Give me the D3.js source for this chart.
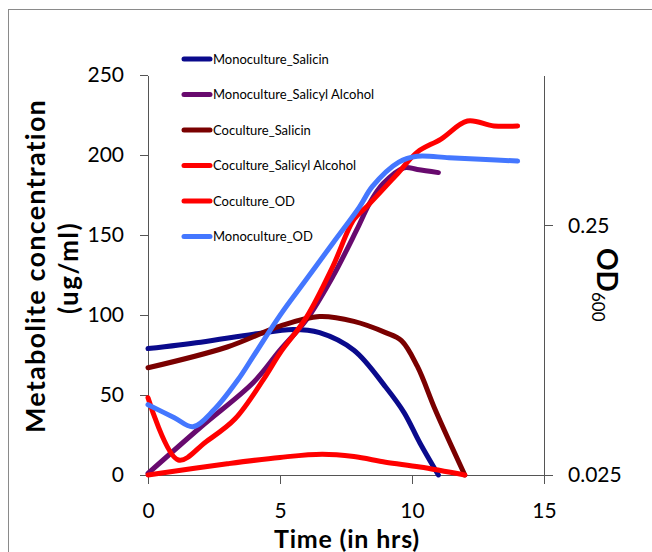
<!DOCTYPE html>
<html lang="en">
<head>
<meta charset="UTF-8">
<title>Metabolite concentration and OD600 over time</title>
<style>
  html, body { margin: 0; background: #fff; }
  text { font-family: Lato, "Open Sans", sans-serif; fill: #000; }
  .series { fill: none; stroke-width: 5px; stroke-linecap: round; stroke-linejoin: round; }
  .axis path, .axis line { stroke: #555; stroke-width: 1px; shape-rendering: crispEdges; }
  .axis text { font-size: 21px; }
</style>
</head>
<body>
<svg width="652" height="552"></svg>
<script src="https://d3js.org/d3.v7.min.js"></script>
<script>
// data, [hour, value]
const monoSalicin = [[0, 79], [2, 83], [4, 88], [5.5, 91], [6.5, 89], [7.8, 78], [9, 55], [9.7, 39], [10.3, 20], [11, 0]];
const monoSalicylAlcohol = [[0, 1], [2, 30], [4, 58], [5, 78], [6, 97], [7, 124], [7.9, 153], [8.4, 170], [8.9, 182], [9.7, 192], [10.2, 191], [11, 189]];
const cocSalicin = [[0, 67], [3, 80], [5, 93], [6.5, 99], [7.8, 96], [9, 89], [9.6, 84], [10.2, 68], [10.9, 40], [12, 0]];
const cocSalicylAlcohol = [[0, 0], [3, 7], [5, 11], [6.6, 13], [7.8, 11.5], [9, 8], [10.3, 5], [12, 0]];
// OD600, secondary (log) axis
const cocOD = [[0, 0.051], [1.15, 0.0287], [2.2, 0.034], [3.3, 0.042], [4.4, 0.061], [5, 0.077], [6, 0.107], [7, 0.171], [7.8, 0.264], [8.3, 0.298], [9.5, 0.408], [10.2, 0.491], [11.1, 0.554], [12.1, 0.654], [13.1, 0.625], [14, 0.625]];
const monoOD = [[0, 0.0478], [1, 0.0424], [1.7, 0.039], [2.5, 0.0456], [3.4, 0.060], [4, 0.075], [5, 0.109], [6, 0.152], [7, 0.212], [8, 0.295], [8.5, 0.358], [9.5, 0.448], [10.2, 0.473], [11.4, 0.466], [12.6, 0.46], [14, 0.452]];

const seriesNames = ["Monoculture_Salicin", "Monoculture_Salicyl Alcohol", "Coculture_Salicin",
  "Coculture_Salicyl Alcohol", "Coculture_OD", "Monoculture_OD"];
const seriesColors = ["#0a0a8c", "#680a6e", "#7a0000", "#ff0000", "#ff0000", "#4477ff"];

const xTicks = [0, 5, 10, 15];
const yTicks = [0, 50, 100, 150, 200, 250];
const odTicks = [0.025, 0.25];

const svg = d3.select("svg");

// outer frame
svg.append("rect")
    .attr("x", 8.5).attr("y", 9.5)
    .attr("width", 700).attr("height", 600)
    .attr("fill", "none").attr("stroke", "#8a8a8a");

const plot = {left: 148, right: 544, top: 75, bottom: 475};

const x = d3.scaleLinear().domain([0, 15]).range([plot.left, plot.right]);
const y = d3.scaleLinear().domain([0, 250]).range([plot.bottom, plot.top]);
const yOD = d3.scaleLog().domain([0.025, 1]).range([plot.bottom, plot.top]);

svg.append("g")
    .attr("class", "axis")
    .attr("transform", "translate(0," + plot.bottom + ")")
    .call(d3.axisBottom(x).tickValues(xTicks).tickSize(9).tickSizeOuter(0).tickPadding(19));

svg.append("g")
    .attr("class", "axis")
    .attr("transform", "translate(" + plot.left + ",0)")
    .call(d3.axisLeft(y).tickValues(yTicks).tickSize(8).tickSizeOuter(0).tickPadding(16));

svg.append("g")
    .attr("class", "axis")
    .attr("transform", "translate(" + plot.right + ",0)")
    .call(d3.axisRight(yOD).tickValues(odTicks).tickFormat(d3.format("")).tickSize(9).tickSizeOuter(0).tickPadding(15));

// series
const lineL = d3.line().x(d => x(d[0])).y(d => y(d[1])).curve(d3.curveCatmullRom.alpha(0.5));
const lineR = d3.line().x(d => x(d[0])).y(d => yOD(d[1])).curve(d3.curveCatmullRom.alpha(0.5));

const allSeries = [
  {data: monoSalicin, line: lineL},
  {data: monoSalicylAlcohol, line: lineL},
  {data: cocSalicin, line: lineL},
  {data: cocSalicylAlcohol, line: lineL},
  {data: cocOD, line: lineR},
  {data: monoOD, line: lineR}
];

allSeries.forEach((s, i) => {
  svg.append("path")
      .datum(s.data)
      .attr("class", "series")
      .attr("stroke", seriesColors[i])
      .attr("d", s.line);
});

// legend
const legend = svg.append("g").attr("transform", "translate(182,59)");
seriesNames.forEach((name, i) => {
  const row = legend.append("g").attr("transform", "translate(0," + (i * 35.5) + ")");
  row.append("line")
      .attr("x1", 2).attr("x2", 28).attr("y1", 0).attr("y2", 0)
      .attr("stroke", seriesColors[i]).attr("stroke-width", 5).attr("stroke-linecap", "round");
  row.append("text")
      .attr("x", 31).attr("y", 0).attr("dy", "0.35em")
      .style("font-size", "13px")
      .text(name);
});

// axis titles
svg.append("text")
    .attr("transform", "translate(45,266) rotate(-90)")
    .attr("text-anchor", "middle")
    .style("font-size", "27px").style("font-weight", "bold").style("letter-spacing", "1.2px")
    .text("Metabolite concentration");

svg.append("text")
    .attr("transform", "translate(78,268) rotate(-90)")
    .attr("text-anchor", "middle")
    .style("font-size", "26px").style("font-weight", "bold").style("letter-spacing", "1.5px")
    .text("(ug/ml)");

svg.append("text")
    .attr("x", 347).attr("y", 548)
    .attr("text-anchor", "middle")
    .style("font-size", "25px").style("font-weight", "bold").style("letter-spacing", "0.8px")
    .text("Time (in hrs)");

const od = svg.append("text")
    .attr("transform", "translate(597,248) rotate(90)")
    .style("font-size", "28px").style("font-weight", "bold");
od.append("tspan").text("OD");
od.append("tspan").attr("dy", 5).style("font-size", "17px").style("font-weight", "normal").text("600");
</script>
</body>
</html>
